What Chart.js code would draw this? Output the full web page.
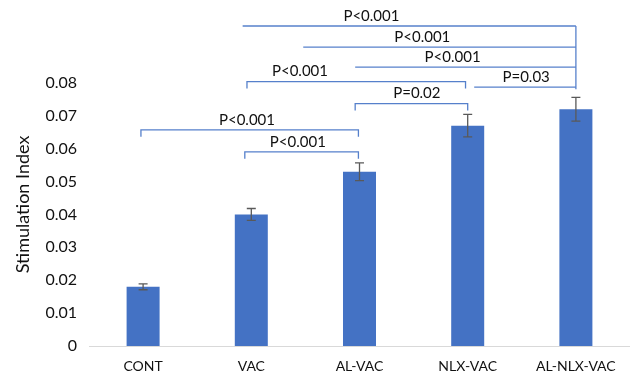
<!DOCTYPE html>
<html>
<head>
<meta charset="utf-8">
<script src="https://cdn.jsdelivr.net/npm/chart.js@4.4.1/dist/chart.umd.min.js"></script>
<style>
html,body{margin:0;padding:0;background:#fff;}
#wrap{width:630px;height:374px;}
</style>
</head>
<body>
<div id="wrap"><canvas id="c" width="630" height="374"></canvas></div>
<script>
// ---- data ----
const categories = ["CONT", "VAC", "AL-VAC", "NLX-VAC", "AL-NLX-VAC"];
const stimIndex = [0.018, 0.040, 0.053, 0.067, 0.072];
const stimError = [0.0009, 0.0018, 0.0027, 0.0034, 0.0036];
const yTicks = [0, 0.01, 0.02, 0.03, 0.04, 0.05, 0.06, 0.07, 0.08];
const yTitle = "Stimulation Index";

// significance annotations (category index range, level in data units)
const brackets = [
  {from: 0.92, to: 4.0, y: 0.0973, label: "P<0.001", lx: 2.11, ends: [false, false]},
  {from: 1.48, to: 4.0, y: 0.0909, label: "P<0.001", lx: 2.58, ends: [false, false]},
  {from: 1.96, to: 4.0, y: 0.0848, label: "P<0.001", lx: 2.86, ends: [false, false]},
  {from: 3.06, to: 4.0, y: 0.0787, label: "P=0.03",  lx: 3.54, ends: [false, false]},
  {from: 0.96, to: 2.98, y: 0.0804, label: "P<0.001", lx: 1.45, ends: [true, true]},
  {from: 1.96, to: 3.0, y: 0.0737, label: "P=0.02",  lx: 2.53, ends: [true, true]},
  {from: -0.02, to: 1.99, y: 0.0657, label: "P<0.001", lx: 0.96, ends: [true, true]},
  {from: 0.94, to: 1.99, y: 0.0590, label: "P<0.001", lx: 1.43, ends: [true, true]}
];
const vertical = {x: 4.0, top: 0.0973, bottom: 0.0781};

const FONT = "Lato, 'Open Sans', sans-serif";

const overlay = {
  id: 'overlay',
  afterDatasetsDraw(chart) {
    const ctx = chart.ctx, xs = chart.scales.x, ys = chart.scales.y;
    ctx.save();
    // error bars
    ctx.strokeStyle = '#595959';
    ctx.lineWidth = 1.3;
    stimIndex.forEach((v, i) => {
      const x = xs.getPixelForValue(i);
      const yt = ys.getPixelForValue(v + stimError[i]);
      const yb = ys.getPixelForValue(v - stimError[i]);
      ctx.beginPath();
      ctx.moveTo(x, yt); ctx.lineTo(x, yb);
      ctx.moveTo(x - 4.5, yt); ctx.lineTo(x + 4.5, yt);
      ctx.moveTo(x - 4.5, yb); ctx.lineTo(x + 4.5, yb);
      ctx.stroke();
    });
    // brackets
    ctx.strokeStyle = '#5680cb';
    ctx.lineWidth = 1.3;
    const tick = 0.0021;
    brackets.forEach(b => {
      const x1 = xs.getPixelForValue(b.from), x2 = xs.getPixelForValue(b.to);
      const y = ys.getPixelForValue(b.y);
      const yt = ys.getPixelForValue(b.y - tick);
      ctx.beginPath();
      if (b.ends[0]) { ctx.moveTo(x1, yt); ctx.lineTo(x1, y); } else { ctx.moveTo(x1, y); }
      ctx.lineTo(x2, y);
      if (b.ends[1]) ctx.lineTo(x2, yt);
      ctx.stroke();
    });
    const vx = xs.getPixelForValue(vertical.x);
    ctx.beginPath();
    ctx.moveTo(vx, ys.getPixelForValue(vertical.top));
    ctx.lineTo(vx, ys.getPixelForValue(vertical.bottom));
    ctx.stroke();
    // labels
    ctx.fillStyle = '#111';
    ctx.font = "15px " + FONT;
    ctx.textAlign = 'center';
    ctx.textBaseline = 'middle';
    brackets.forEach(b => {
      const x = xs.getPixelForValue(b.lx);
      const y = ys.getPixelForValue(b.y);
      ctx.fillText(b.label, x, y - 10);
    });
    // y axis title, centred on the tick range
    const cy = (ys.getPixelForValue(yTicks[0]) + ys.getPixelForValue(yTicks[yTicks.length - 1])) / 2 - 10;
    ctx.translate(23, cy);
    ctx.rotate(-Math.PI / 2);
    ctx.font = "18px " + FONT;
    ctx.fillText(yTitle, 0, 0);
    ctx.restore();
  }
};

new Chart(document.getElementById('c'), {
  type: 'bar',
  data: {
    labels: categories,
    datasets: [{
      data: stimIndex,
      backgroundColor: '#4472C4',
      borderWidth: 0,
      barPercentage: 0.305,
      categoryPercentage: 1.0
    }]
  },
  options: {
    responsive: false,
    devicePixelRatio: 1,
    animation: false,
    layout: {padding: 0, autoPadding: false},
    plugins: {legend: {display: false}, tooltip: {enabled: false}},
    scales: {
      x: {
        grid: {display: false, drawTicks: false},
        border: {color: '#d9d9d9', width: 1},
        ticks: {color: '#111', font: {family: FONT, size: 14}, padding: 12, maxRotation: 0},
        afterFit(s) { s.height = 28; s.paddingLeft = 0; s.paddingRight = 0; }
      },
      y: {
        min: 0,
        max: 0.1052,
        grid: {display: false, drawTicks: false},
        border: {display: false},
        afterBuildTicks(s) { s.ticks = yTicks.map(v => ({value: v})); },
        ticks: {
          color: '#111',
          font: {family: FONT, size: 16},
          padding: 12,
          callback: v => v === 0 ? '0' : v.toFixed(2)
        },
        title: {display: false},
        afterFit(s) { s.width = 89; s.paddingTop = 0; s.paddingBottom = 0; }
      }
    }
  },
  plugins: [overlay]
});
</script>
</body>
</html>
